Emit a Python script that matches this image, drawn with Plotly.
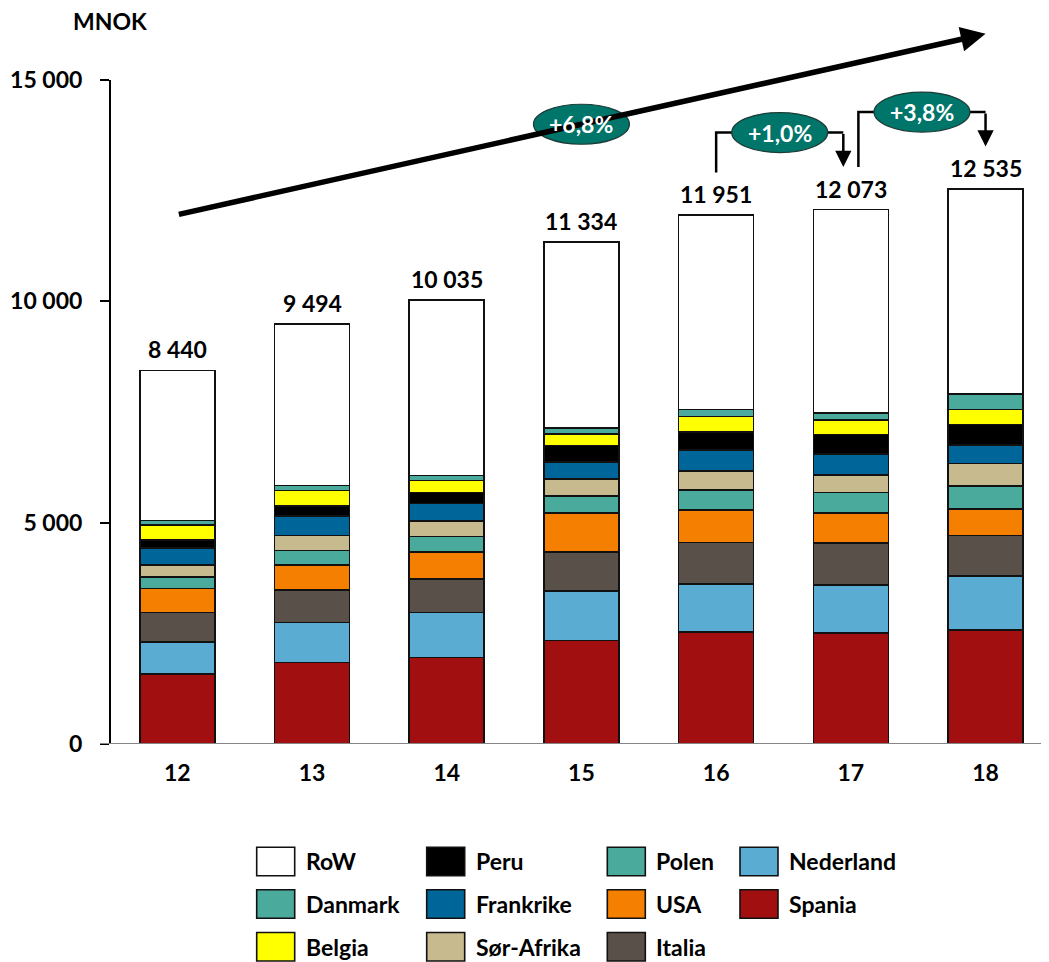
import plotly.graph_objects as go

# ---------------- data ----------------
years = ["12", "13", "14", "15", "16", "17", "18"]

spania = [1581, 1837, 1950, 2334, 2537, 2501, 2575]
nederland = [730, 912, 1025, 1129, 1077, 1091, 1220]
italia = [664, 730, 752, 881, 942, 955, 919]
usa = [542, 565, 617, 868, 730, 678, 595]
polen = [249, 323, 348, 397, 452, 461, 519]
sor_afrika = [284, 339, 352, 371, 436, 397, 513]
frankrike = [384, 445, 393, 397, 461, 475, 413]
peru = [168, 225, 249, 362, 420, 438, 468]
belgia = [345, 355, 271, 264, 339, 323, 339]
danmark = [106, 113, 113, 135, 167, 158, 339]
row = [3387, 3650, 3965, 4196, 4390, 4596, 4635]

series_names = ["Spania", "Nederland", "Italia", "USA", "Polen", "Sør-Afrika",
                "Frankrike", "Peru", "Belgia", "Danmark", "RoW"]
series_values = [spania, nederland, italia, usa, polen, sor_afrika,
                 frankrike, peru, belgia, danmark, row]
series_colors = ["#A20F10", "#5BACD3", "#5A504A", "#F57F00", "#4AAB9D", "#C7BA8F",
                 "#006699", "#000000", "#FFFF00", "#4AAB9D", "#FFFFFF"]

y_ticks = [0, 5000, 10000, 15000]

# ---------------- layout constants ----------------
OFF = 8                       # page body margin of the browser
W, H = 1049 - OFF, 962 - OFF
ML, MT = 110 - OFF, 10 - OFF
MB = H - (744 - OFF)
MR = 0
PW, PH = W - ML - MR, H - MT - MB
PX_PER_UNIT_Y = 664 / 15000
Y_MAX = PH / PX_PER_UNIT_Y
X_MIN = -0.5
X_MAX = X_MIN + PW / 134.7
FONT = "Lato"
FS = 23
TEAL = "#00756A"


def bfont(color="#000000", size=FS):
    return dict(family=FONT, size=size, color=color, weight="bold")


x = list(range(len(years)))
totals = [sum(v[i] for v in series_values) for i in range(len(years))]


def fmt(v):
    return f"{v:,}".replace(",", " ")


def pct(v):
    return ("+" if v >= 0 else "") + f"{v * 100:.1f}".replace(".", ",") + "%"


# reference-pixel -> paper coordinates
def px2x(px):
    return (px - OFF - ML) / PW


def py2y(py):
    return (H - MB - (py - OFF)) / PH


fig = go.Figure()
for name, vals, col in zip(series_names, series_values, series_colors):
    fig.add_trace(go.Bar(
        x=x, y=vals, name=name, width=0.557,
        marker=dict(color=col, line=dict(color="#111111", width=1.6)),
        showlegend=False, hoverinfo="name+y",
    ))

annotations = []
shapes = []

# total labels
for xi, t in zip(x, totals):
    annotations.append(dict(x=xi, y=t, xref="x", yref="y", text=fmt(t),
                            showarrow=False, yanchor="bottom", yshift=5,
                            font=bfont()))

# axis lines
shapes.append(dict(type="line", xref="paper", yref="y", x0=0, x1=0, y0=0, y1=y_ticks[-1],
                   line=dict(color="#000000", width=2)))
shapes.append(dict(type="line", xref="paper", yref="y", x0=-10 / PW, x1=1, y0=0, y1=0,
                   line=dict(color="#868686", width=2)))

# trend arrow with CAGR
n = len(years) - 1
cagr = (totals[-1] / totals[0]) ** (1 / n) - 1
ay0, ay1 = totals[0] + 3517, 16044
annotations.append(dict(x=x[-1], y=ay1, ax=x[0], ay=ay0, xref="x", yref="y",
                        axref="x", ayref="y", text="", showarrow=True,
                        arrowhead=2, arrowsize=0.9, arrowwidth=5.5,
                        arrowcolor="#000000", standoff=0, startstandoff=0))
mx = 3
my = ay0 + (ay1 - ay0) * (mx - x[0]) / (x[-1] - x[0])


def ellipse(cx, cy, label):
    shapes.append(dict(type="circle", xref="x", yref="y", xsizemode="pixel",
                       ysizemode="pixel", xanchor=cx, yanchor=cy,
                       x0=-48, x1=48, y0=-20, y1=20,
                       fillcolor=TEAL, line=dict(color="#1E3B37", width=1.2),
                       layer="above"))
    annotations.append(dict(x=cx, y=cy, xref="x", yref="y", text=label, showarrow=False,
                            font=bfont("#FFFFFF")))


ellipse(mx, my, pct(cagr))

# yearly change brackets
gap = 0.056
for i, (x0, x1) in enumerate([(x[4], x[5] - gap), (x[5] + gap, x[6])]):
    i0 = 4 + i
    t0, t1 = totals[i0], totals[i0 + 1]
    ys = t0 + 960
    ye = t1 + 960
    yh = max(t0, t1) + 1740
    shapes.append(dict(type="path", xref="x", yref="y",
                       path=f"M {x0},{ys} L {x0},{yh} L {x1},{yh}",
                       line=dict(color="#000000", width=2.5)))
    annotations.append(dict(x=x1, y=ye, ax=x1, ay=yh, xref="x", yref="y",
                            axref="x", ayref="y", text="", showarrow=True,
                            arrowhead=2, arrowsize=1.3, arrowwidth=2.5,
                            arrowcolor="#000000", standoff=0, startstandoff=0))
    ellipse((x0 + x1) / 2, yh, pct(t1 / t0 - 1))

# unit title
annotations.append(dict(x=px2x(110), y=py2y(21), xref="paper", yref="paper",
                        text="MNOK", showarrow=False, xanchor="center", yanchor="middle",
                        font=bfont()))

# ---------------- custom legend ----------------
sw_left = [256.7, 426.7, 607.3, 740.0]
txt_left = [303.5, 473.5, 654.0, 786.5]
row_mid = [861.5, 904.0, 946.7]
SW_W, SW_H = 38, 28.5
legend_items = list(zip(series_names, series_colors))[::-1]
for k, (name, col) in enumerate(legend_items):
    c, r = k // 3, k % 3
    cy = row_mid[r]
    shapes.append(dict(type="rect", xref="paper", yref="paper",
                       x0=px2x(sw_left[c]), x1=px2x(sw_left[c] + SW_W),
                       y0=py2y(cy + SW_H / 2), y1=py2y(cy - SW_H / 2),
                       fillcolor=col, line=dict(color="#111111", width=1.6)))
    annotations.append(dict(x=px2x(txt_left[c]), y=py2y(cy), xref="paper", yref="paper",
                            text=name, showarrow=False, xanchor="left", yanchor="middle",
                            font=bfont()))

fig.update_layout(
    width=W, height=H,
    margin=dict(l=ML, r=MR, t=MT, b=MB, pad=0),
    barmode="stack",
    plot_bgcolor="#FFFFFF", paper_bgcolor="#FFFFFF",
    separators=", ",
    font=bfont(),
    xaxis=dict(range=[X_MIN, X_MAX], tickvals=x, ticktext=years, showgrid=False,
               zeroline=False, showline=False, ticks="", ticklabelstandoff=13,
               tickfont=bfont()),
    yaxis=dict(range=[0, Y_MAX], tickvals=y_ticks, tickformat=",d", showgrid=False,
               zeroline=False, showline=False, ticks="outside", ticklen=9,
               tickwidth=2, tickcolor="#000000", ticklabelstandoff=13,
               tickfont=bfont()),
    annotations=annotations, shapes=shapes,
)

fig.write_html("out.html")
